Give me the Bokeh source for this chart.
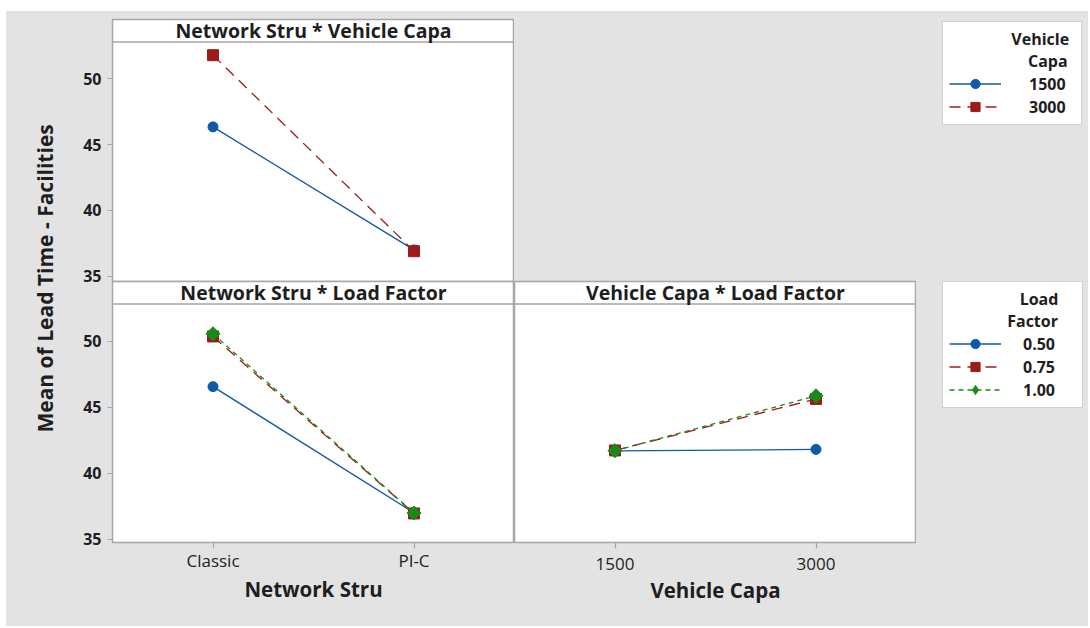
import math
from bokeh.plotting import figure
from bokeh.models import FactorRange, Range1d, FixedTicker, Span, Label, Legend, LegendItem
from bokeh.layouts import row, column
from bokeh.embed import file_html
from bokeh.resources import INLINE

# ---------------- data ----------------
network_levels = ["Classic", "PI-C"]
capa_levels = ["1500", "3000"]
capa_series = ["1500", "3000"]
load_series = ["0.50", "0.75", "1.00"]

# Network Stru * Vehicle Capa (series = Vehicle Capa)
ns_vc_1500 = [46.35, 37.0]
ns_vc_3000 = [51.8, 36.9]
# Network Stru * Load Factor (series = Load Factor)
ns_lf_050 = [46.55, 37.0]
ns_lf_075 = [50.35, 36.95]
ns_lf_100 = [50.55, 36.98]
# Vehicle Capa * Load Factor (series = Load Factor)
vc_lf_050 = [41.68, 41.8]
vc_lf_075 = [41.72, 45.62]
vc_lf_100 = [41.70, 45.85]

y_ticks = [35, 40, 45, 50]

# ---------------- style ----------------
BG = "#e3e3e3"
FRAME = "#a6a6a6"
TXT = "#1e1e1e"
BLUE = "#0d5aa7"
RED = "#9e1b1b"
GREEN = "#178a17"
FONT = "Open Sans"
NB = "\u00a0"
Y_HDR = 52.8
Y_TOP = 54.51
STYLES = {
    "blue": dict(color=BLUE, dash="solid", marker="circle", size=10, angle=0.0),
    "red": dict(color=RED, dash="11 7", marker="square", size=11, angle=0.0),
    "green": dict(color=GREEN, dash="5 4", marker="square", size=10, angle=math.pi / 4),
    "green_key": dict(color=GREEN, dash="5 4", marker="diamond", size=14, angle=0.0),
}


def bare(width, height, x_range, y_range, bl=0, br=0, bt=0, bb=0):
    f = figure(width=width, height=height, x_range=x_range, y_range=y_range,
               toolbar_location=None, output_backend="svg", title=None,
               x_axis_location=None, y_axis_location=None,
               min_border_left=bl, min_border_right=br, min_border_top=bt, min_border_bottom=bb)
    f.grid.visible = False
    f.outline_line_color = None
    f.background_fill_alpha = 0
    f.border_fill_alpha = 0
    return f


def panel(x_factors, y_start, width, height, bl, br, bt, bb, show_x, show_y, title):
    p = figure(x_range=FactorRange(factors=x_factors, range_padding=0),
               y_range=Range1d(y_start, Y_TOP),
               width=width, height=height,
               min_border_left=bl, min_border_right=br,
               min_border_top=bt, min_border_bottom=bb,
               toolbar_location=None, output_backend="svg", title=None,
               x_axis_location="below" if show_x else None,
               y_axis_location="left" if show_y else None)
    p.grid.visible = False
    p.background_fill_color = "white"
    p.border_fill_alpha = 0
    p.outline_line_color = FRAME
    p.outline_line_width = 1.5
    for ax in p.axis:
        ax.axis_line_color = None
        ax.major_tick_line_color = FRAME
        ax.major_tick_line_width = 1.2
        ax.major_tick_out = 5
        ax.major_tick_in = 0
        ax.minor_tick_line_color = None
        ax.major_label_text_font = FONT
        ax.major_label_text_color = TXT
        ax.major_label_text_font_size = "16px"
        ax.axis_label_text_font = FONT
        ax.axis_label_text_font_size = "20.5px"
        ax.axis_label_text_font_style = "bold"
        ax.axis_label_text_color = TXT
    if show_y:
        p.yaxis.ticker = FixedTicker(ticks=y_ticks)
        p.yaxis.major_label_text_font_style = "bold"
        p.yaxis.major_label_standoff = 6
    if show_x:
        p.xaxis.major_tick_out = 6
        p.xaxis.major_label_text_font_size = "17px"
        p.xaxis.major_label_standoff = 0
        p.xaxis.axis_label_standoff = 0
    p.add_layout(Span(location=Y_HDR, dimension="width", line_color=FRAME, line_width=1.5))
    p.add_layout(Label(x=1.0, y=(Y_HDR + Y_TOP) / 2, text=title, text_align="center",
                       text_baseline="middle", text_font=FONT, text_font_size="19.5px",
                       text_font_style="bold", text_color=TXT))
    return p


def series(p, xs, ys, style, visible=True):
    st = STYLES[style]
    l = p.line(x=xs, y=ys, line_color=st["color"], line_width=1.3, line_dash=st["dash"],
               visible=visible)
    s = p.scatter(x=xs, y=ys, marker=st["marker"], size=st["size"], angle=st["angle"],
                  fill_color=st["color"], line_color=st["color"], visible=visible)
    return [l, s]


def legend_fig(width, height, bl, bt, margin, x_factors, labels, ys_list, styles, title,
               standoff, label_w):
    f = bare(width, height, FactorRange(factors=x_factors), Range1d(30, 60), bl=bl, bt=bt)
    items = []
    for t, ys, st in zip(labels, ys_list, styles):
        rs = series(f, x_factors, ys, st, visible=False)
        items.append(LegendItem(label=t, renderers=rs))
    lg = Legend(items=items, location="top_left", title=title,
                title_text_font=FONT, title_text_font_size="16px",
                title_text_font_style="bold", title_text_color=TXT, title_standoff=0,
                label_text_font=FONT, label_text_font_size="16px",
                label_text_font_style="bold", label_text_color=TXT,
                glyph_width=52, glyph_height=23, label_height=21, label_width=label_w,
                label_standoff=standoff, spacing=0, padding=6, margin=margin,
                border_line_color=FRAME, border_line_width=1.5,
                background_fill_color="white", background_fill_alpha=1.0)
    f.add_layout(lg)
    return f


# ---------------- y label figure ----------------
lab = bare(54, 615, Range1d(0, 1), Range1d(0, 1))
lab.add_layout(Label(x=0.722, y=0.566, text="Mean of Lead Time - Facilities", angle=math.pi / 2,
                     text_align="center", text_baseline="middle", text_font=FONT,
                     text_font_size="21px", text_font_style="bold", text_color=TXT))

# ---------------- top-left ----------------
tl = panel(network_levels, 34.6, 454, 280, 52, 0, 8, 10, False, True,
           "Network Stru * Vehicle Capa")
series(tl, network_levels, ns_vc_1500, "blue")
series(tl, network_levels, ns_vc_3000, "red")
leg1 = legend_fig(574, 280, 426, 0, 2, network_levels, capa_series,
                  [ns_vc_1500, ns_vc_3000], ["blue", "red"],
                  NB * 15 + "Vehicle\n" + NB * 19 + "Capa", 28, 46)

# ---------------- bottom-left ----------------
bl = panel(network_levels, 34.75, 454, 349, 52, 0, 4, 84, True, True,
           "Network Stru * Load Factor")
bl.xaxis.axis_label = "Network Stru"
series(bl, network_levels, ns_lf_050, "blue")
series(bl, network_levels, ns_lf_075, "red")
series(bl, network_levels, ns_lf_100, "green")

# ---------------- bottom-right ----------------
br = panel(capa_levels, 34.75, 402, 349, 0, 0, 4, 84, True, False,
           "Vehicle Capa * Load Factor")
br.xaxis.axis_label = "Vehicle Capa"
br.xaxis.major_label_standoff = 9
br.xaxis.axis_label_standoff = 3
series(br, capa_levels, vc_lf_050, "blue")
series(br, capa_levels, vc_lf_075, "red")
series(br, capa_levels, vc_lf_100, "green")
leg2 = legend_fig(172, 349, 26, 0, 0, capa_levels, load_series,
                  [vc_lf_050, vc_lf_075, vc_lf_100], ["blue", "red", "green_key"],
                  NB * 17 + "Load\n" + NB * 14 + "Factor", 22, 53)

row1 = row(tl, leg1, spacing=0)
row2 = row(bl, br, leg2, spacing=0)
row2.margin = (-14, 0, 0, 0)
layout = row(lab, column(row1, row2, spacing=0), spacing=0)
layout.margin = (11, 0, 0, 6)
layout.styles = {"background-color": BG}

open("out.html", "w").write(file_html(layout, INLINE))
